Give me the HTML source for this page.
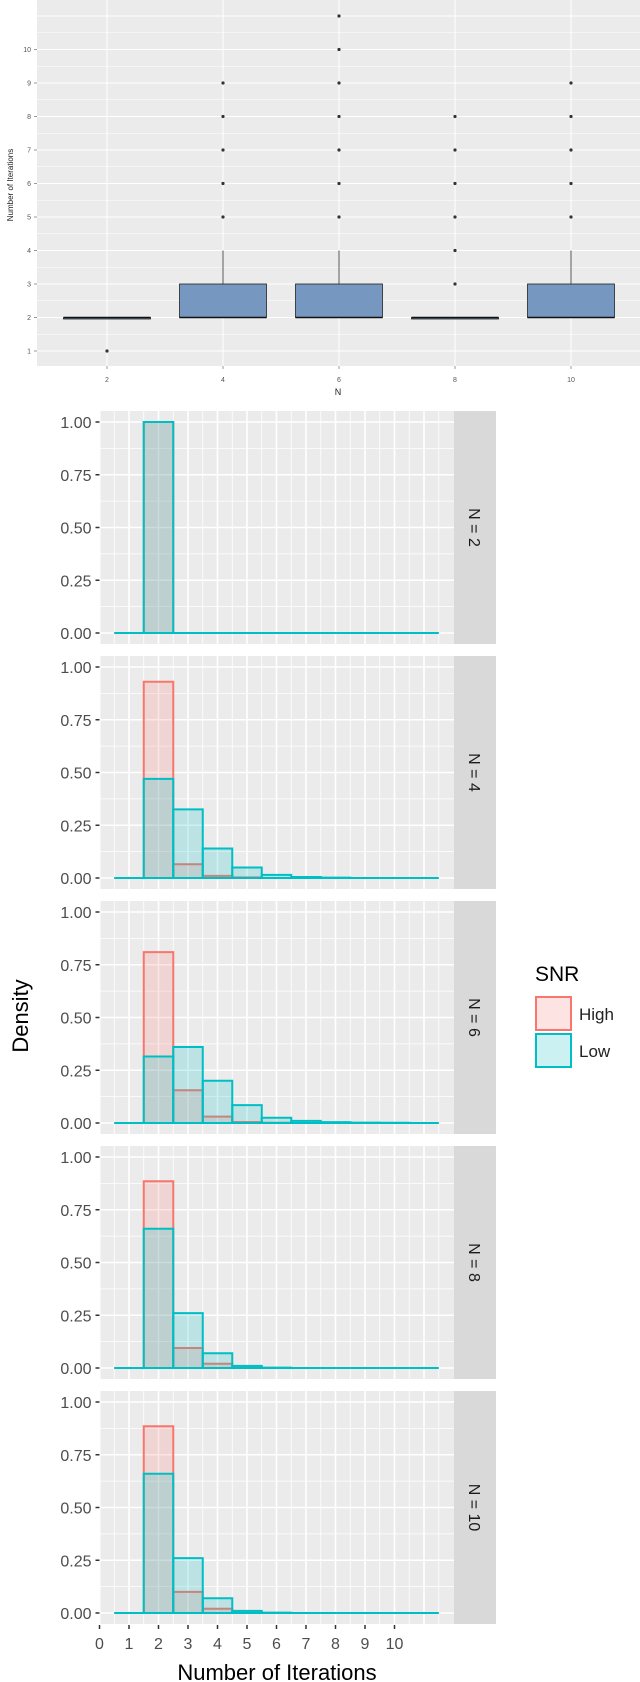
<!DOCTYPE html>
<html><head><meta charset="utf-8"><style>
html,body{margin:0;padding:0;background:#fff;}
svg{display:block;font-family:"Liberation Sans",sans-serif;}
</style></head><body>
<svg id="chart" width="640" height="1682" viewBox="0 0 640 1682">
<g id="top"></g>
<g id="facets"></g>
<g id="legend">
  <text x="535" y="981" font-size="21" fill="#000">SNR</text>
  <rect x="536" y="997" width="35" height="33" fill="#fde3e1" stroke="#F8766D" stroke-width="2"/>
  <text x="579" y="1020" font-size="17" fill="#222">High</text>
  <rect x="536" y="1034" width="35" height="33" fill="#ccf1f2" stroke="#00BFC4" stroke-width="2"/>
  <text x="579" y="1057" font-size="17" fill="#222">Low</text>
</g>
<text x="0" y="0" transform="translate(28,1016) rotate(-90)" text-anchor="middle" font-size="22" fill="#000">Density</text>
<text x="277" y="1680" text-anchor="middle" font-size="22" fill="#000">Number of Iterations</text>
</svg>
<script>
// ---- Boxplot data ----
const boxN = [2, 4, 6, 8, 10];
const boxQ1 = [2, 2, 2, 2, 2];
const boxMed = [2, 2, 2, 2, 2];
const boxQ3 = [2, 3, 3, 2, 3];
const boxWhiskHi = [2, 4, 4, 2, 4];
const boxOutliers = [[1], [5,6,7,8,9], [5,6,7,8,9,10,11], [3,4,5,6,7,8], [5,6,7,8,9]];
const boxYTicks = [1,2,3,4,5,6,7,8,9,10];

// ---- Histogram data ----
const facetLabels = ["N = 2","N = 4","N = 6","N = 8","N = 10"];
const binCenters = [1,2,3,4,5,6,7,8,9,10,11];
const highDensity = [
 [0,1.0,0,0,0,0,0,0,0,0,0],
 [0,0.93,0.065,0.01,0.003,0,0,0,0,0,0],
 [0,0.81,0.155,0.03,0.005,0.001,0,0,0,0,0],
 [0,0.885,0.095,0.02,0.003,0,0,0,0,0,0],
 [0,0.885,0.1,0.02,0.003,0,0,0,0,0,0]
];
const lowDensity = [
 [0,1.0,0,0,0,0,0,0,0,0,0],
 [0,0.47,0.325,0.14,0.05,0.015,0.005,0.002,0,0,0],
 [0,0.315,0.36,0.2,0.085,0.025,0.01,0.004,0.002,0.001,0],
 [0,0.66,0.26,0.07,0.01,0.002,0,0,0,0,0],
 [0,0.66,0.26,0.07,0.01,0.002,0,0,0,0,0]
];
const densTicks = [0, 0.25, 0.5, 0.75, 1.0];
const densTickLabels = ["0.00","0.25","0.50","0.75","1.00"];
const iterTicks = [0,1,2,3,4,5,6,7,8,9,10];

const NS = "http://www.w3.org/2000/svg";
function mk(parent, tag, attrs){ const e=document.createElementNS(NS,tag); for(const k in attrs) e.setAttribute(k,attrs[k]); parent.appendChild(e); return e; }

// ---- Boxplot ----
(function(){
 const g = document.getElementById('top');
 const L=37, R=640, T=0, B=366;
 const xS = n => 107 + (n-2)/2*116;
 const yS = v => 351 - (v-1)*33.5;
 let bg = mk(g,'rect',{x:L,y:T,width:R-L,height:B-T,fill:'#ebebeb'});
  
 for(let v=0.5; v<=11.5; v+=0.5){
   const y=yS(v); if(y<T||y>B) continue;
   mk(g,'line',{x1:L,x2:R,y1:y,y2:y,stroke:'#fff','stroke-width': (v%1===0)?1:0.5});
 }
 boxN.forEach(n=>{ mk(g,'line',{x1:xS(n),x2:xS(n),y1:T,y2:B,stroke:'#fff','stroke-width':1}); });
 boxYTicks.forEach(v=>{
   const t=mk(g,'text',{x:L-6,y:yS(v)+2.5,'text-anchor':'end','font-size':7,fill:'#555'}); t.textContent=v;
    
   mk(g,'line',{x1:L-3,x2:L,y1:yS(v),y2:yS(v),stroke:'#555','stroke-width':0.6});
 });
 boxN.forEach((n,i)=>{
   const x=xS(n);
   mk(g,'line',{x1:x,x2:x,y1:yS(boxWhiskHi[i]),y2:yS(boxQ3[i]),stroke:'#333','stroke-width':0.8});
   const r=mk(g,'rect',{x:x-43.5,y:yS(boxQ3[i]),width:87,height:Math.max(1.5,yS(boxQ1[i])-yS(boxQ3[i])),fill:'#7597c0',stroke:'#222','stroke-width':0.8});
    
   mk(g,'line',{x1:x-43.5,x2:x+43.5,y1:yS(boxMed[i]),y2:yS(boxMed[i]),stroke:'#111','stroke-width':1.5});
   boxOutliers[i].forEach(v=>{
     const c=mk(g,'circle',{cx:x,cy:yS(v),r:1.6,fill:'#333'});
      
   });
   const t=mk(g,'text',{x:x,y:382,'text-anchor':'middle','font-size':7,fill:'#555'}); t.textContent=n;
    
   mk(g,'line',{x1:x,x2:x,y1:B,y2:B+3,stroke:'#555','stroke-width':0.6});
 });
 const nt=mk(g,'text',{x:338,y:395,'text-anchor':'middle','font-size':9,fill:'#222'}); nt.textContent='N';
  
 const yt=mk(g,'text',{x:0,y:0,transform:'translate(13,185) rotate(-90)','text-anchor':'middle','font-size':8,fill:'#222'}); yt.textContent='Number of Iterations';
  
})();

// ---- Facets ----
(function(){
 const g=document.getElementById('facets');
 const L=100.5, R=454, SR=496, H=233;
 const tops=[411,656,901,1146,1391];
 const xS = v => 99.5 + v*29.5;
 facetLabels.forEach((lab,fi)=>{
   const T=tops[fi], B=T+H;
   const yS = d => (B-11) - d*211;
   const pg=mk(g,'g',{});
    
   mk(pg,'rect',{x:L,y:T,width:R-L,height:H,fill:'#ebebeb'});
   for(let d=-0.125; d<=1.1; d+=0.125){ const y=yS(d); if(y<T||y>B) continue;
     mk(pg,'line',{x1:L,x2:R,y1:y,y2:y,stroke:'#fff','stroke-width':(Math.abs(d*4-Math.round(d*4))<1e-6)?1.6:0.8}); }
   for(let v=0.5; v<12; v+=0.5){ const x=xS(v); if(x<L||x>R) continue;
     mk(pg,'line',{x1:x,x2:x,y1:T,y2:B,stroke:'#fff','stroke-width':(v%1===0)?1.6:0.8}); }
   const strip=mk(pg,'rect',{x:R,y:T,width:SR-R,height:H,fill:'#d9d9d9'});
    
   const st=mk(pg,'text',{x:0,y:0,transform:`translate(${(R+SR)/2-6},${T+H/2}) rotate(90)`,'text-anchor':'middle','font-size':16,fill:'#1a1a1a'}); st.textContent=lab;
    
   densTicks.forEach((d,k)=>{
     const y=yS(d);
     mk(pg,'line',{x1:L-5,x2:L-1,y1:y,y2:y,stroke:'#333','stroke-width':1.5});
     const t=mk(pg,'text',{x:L-9,y:y+6,'text-anchor':'end','font-size':16,fill:'#4d4d4d'}); t.textContent=densTickLabels[k];
      
   });
   [[highDensity,'rgba(248,118,109,0.2)','#F8766D','high'],[lowDensity,'rgba(0,191,196,0.2)','#00BFC4','low']].forEach(([arr,fill,stroke,nm])=>{
     binCenters.forEach((c,bi)=>{
       const d=arr[fi][bi];
       const x0=xS(c-0.5), x1=xS(c+0.5), y=yS(d), y0=yS(0);
       const r=mk(pg,'path',{d:`M${x0},${y0} L${x0},${y} L${x1},${y} L${x1},${y0} Z`,fill:fill,stroke:stroke,'stroke-width':2});
        
     });
   });
 });
 const B=tops[4]+H;
 iterTicks.forEach(v=>{
   const x=xS(v);
   mk(g,'line',{x1:x,x2:x,y1:B+1,y2:B+5,stroke:'#333','stroke-width':1.5});
   const t=mk(g,'text',{x:x,y:B+25,'text-anchor':'middle','font-size':16,fill:'#4d4d4d'}); t.textContent=v;
    
 });
})();
</script>
</body></html>
